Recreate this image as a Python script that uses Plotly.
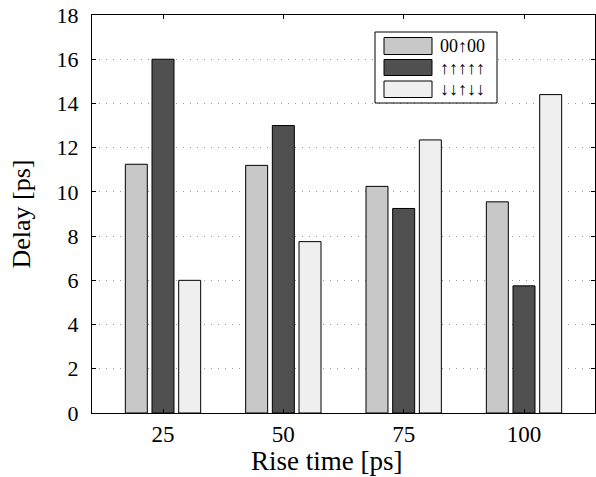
import plotly.graph_objects as go

categories = ["25", "50", "75", "100"]
series_names = ["00↑00", "↑↑↑↑↑", "↓↓↑↓↓"]
s1 = [11.25, 11.2, 10.25, 9.55]
s2 = [16.0, 13.0, 9.25, 5.75]
s3 = [6.0, 7.75, 12.35, 14.4]
series_values = [s1, s2, s3]
colors = ["#c8c8c8", "#505050", "#efefef"]
y_ticks = list(range(0, 19, 2))

W, H = 596, 477
L, R, T, B = 92, 595, 15, 413

fig = go.Figure()
xs = list(range(len(categories)))
for name, vals, c in zip(series_names, series_values, colors):
    fig.add_trace(go.Bar(x=xs, y=vals, name=name, marker=dict(color=c, line=dict(color="black", width=1)),
                         showlegend=False))

def px(x):
    return (x - L) / (R - L)

def py(y):
    return (B - y) / (B - T)

font = "Liberation Serif"
shapes = [dict(type="rect", xref="paper", yref="paper", x0=px(375), x1=px(497), y0=py(103), y1=py(32),
               fillcolor="white", line=dict(color="black", width=1), layer="above")]
annotations = []
rows = [(37.5, 54.5), (59.5, 75.5), (81, 97.5)]
for (y0, y1), name, c in zip(rows, series_names, colors):
    shapes.append(dict(type="rect", xref="paper", yref="paper", x0=px(384), x1=px(432), y0=py(y1), y1=py(y0),
                       fillcolor=c, line=dict(color="black", width=1), layer="above"))
    annotations.append(dict(xref="paper", yref="paper", x=px(438), y=py((y0 + y1) / 2), text=name,
                            showarrow=False, xanchor="left", yanchor="middle",
                            font=dict(family=font, size=18, color="black")))

# x-axis title
annotations.append(dict(xref="paper", yref="paper", x=px(326), y=py(461), text="Rise time [ps]",
                        showarrow=False, xanchor="center", yanchor="middle",
                        font=dict(family=font, size=27, color="black")))

fig.update_layout(
    width=W, height=H,
    margin=dict(l=L, r=W - R, t=T, b=H - B),
    paper_bgcolor="white", plot_bgcolor="white",
    barmode="group", bargap=0.335, bargroupgap=0.176,
    font=dict(family=font, size=20, color="black"),
    shapes=shapes, annotations=annotations,
    xaxis=dict(range=[-0.59, 3.59], tickmode="array", tickvals=xs, ticktext=categories,
               showline=True, linecolor="black", linewidth=1, mirror="ticks",
               ticks="inside", ticklen=4, tickcolor="black", showgrid=False, zeroline=False,
               tickfont=dict(family=font, size=23),
               ticklabelstandoff=0),
    yaxis=dict(range=[0, 18], tickmode="array", tickvals=y_ticks,
               showline=True, linecolor="black", linewidth=1, mirror="ticks",
               ticks="inside", ticklen=4, tickcolor="black",
               showgrid=True, gridcolor="#999999", griddash="1px,6px", gridwidth=1, zeroline=False,
               title=dict(text="Delay [ps]", font=dict(family=font, size=26), standoff=18),
               tickfont=dict(family=font, size=22),
               ticklabelstandoff=8),
)

fig.write_html("out.html")
